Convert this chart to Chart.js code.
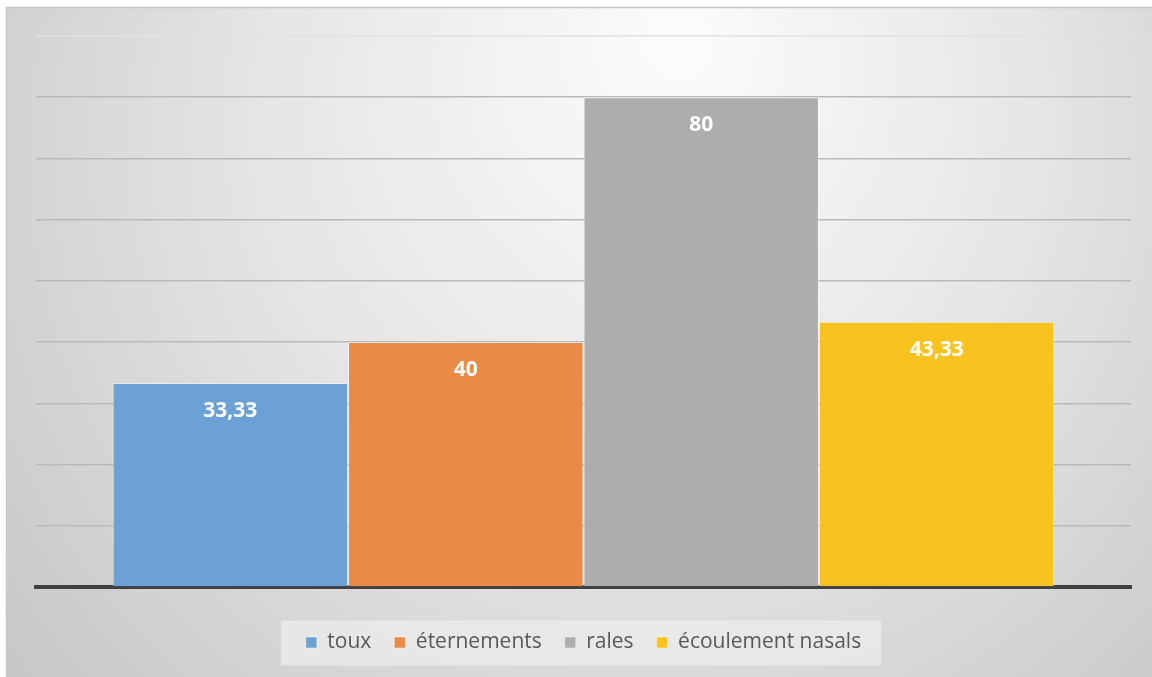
<!DOCTYPE html>
<html>
<head>
<meta charset="utf-8">
<script src="https://cdn.jsdelivr.net/npm/chart.js@4/dist/chart.umd.min.js"></script>
<style>
  html, body { margin: 0; padding: 0; background: #ffffff; }
  #wrap { width: 1152px; height: 677px; position: relative; }
</style>
</head>
<body>
<div id="wrap"><canvas id="chart" width="1152" height="677"></canvas></div>
<script>
// Symptom frequencies (%)
const categories = [''];
const seriesNames = ['toux', 'éternements', 'rales', 'écoulement nasals'];
const seriesValues = [33.33, 40, 80, 43.33];
const yTicks = [0, 10, 20, 30, 40, 50, 60, 70, 80, 90];

const palette = ['#6ba1d5', '#ea8a47', '#adadad', '#f9c31f'];

const fmt = v => String(v).replace('.', ',');

// Frame with soft radial shading, plus a light panel behind the legend
const backdrop = {
  id: 'backdrop',
  beforeDraw(chart) {
    const ctx = chart.ctx;
    const W = chart.width, H = chart.height;
    ctx.save();
    ctx.fillStyle = '#ffffff';
    ctx.fillRect(0, 0, W, H);
    const g = ctx.createRadialGradient(680, 40, 20, 620, 200, 820);
    g.addColorStop(0, '#fbfbfb');
    g.addColorStop(0.45, '#e6e6e6');
    g.addColorStop(1, '#c4c4c4');
    ctx.fillStyle = g;
    ctx.fillRect(6, 7, W - 6, H - 7);
    ctx.strokeStyle = '#c6c6c6';
    ctx.lineWidth = 1.5;
    ctx.beginPath();
    ctx.moveTo(6.5, H);
    ctx.lineTo(6.5, 7.5);
    ctx.lineTo(W, 7.5);
    ctx.stroke();

    const boxes = chart.legend && chart.legend.legendHitBoxes;
    if (boxes && boxes.length) {
      const last = boxes[boxes.length - 1];
      const l = boxes[0].left - 25;
      const r = last.left + last.width + 20;
      const cy = boxes[0].top + boxes[0].height / 2;
      ctx.fillStyle = 'rgba(236,236,236,0.75)';
      ctx.fillRect(l, cy - 22, r - l, 45);
    }
    ctx.restore();
  }
};

// Value labels inside the top of each bar
const valueLabels = {
  id: 'valueLabels',
  afterDatasetsDraw(chart) {
    const ctx = chart.ctx;
    ctx.save();
    ctx.font = 'bold 21px "Open Sans", sans-serif';
    ctx.fillStyle = '#ffffff';
    ctx.textAlign = 'center';
    ctx.textBaseline = 'middle';
    chart.data.datasets.forEach((ds, i) => {
      const meta = chart.getDatasetMeta(i);
      meta.data.forEach((bar, j) => {
        ctx.fillText(fmt(ds.data[j]), bar.x, bar.y + 28);
      });
    });
    ctx.restore();
  }
};

const datasets = seriesNames.map((name, i) => ({
  label: name,
  data: [seriesValues[i]],
  backgroundColor: palette[i],
  borderColor: 'rgba(255,255,255,0.45)',
  borderWidth: 1,
  borderSkipped: 'bottom'
}));

new Chart(document.getElementById('chart'), {
  type: 'bar',
  data: { labels: categories, datasets },
  options: {
    responsive: false,
    animation: false,
    events: [],
    categoryPercentage: 0.86,
    barPercentage: 1.0,
    layout: { padding: { left: 36, right: 21, top: 36, bottom: 14 } },
    scales: {
      x: {
        grid: { display: false },
        ticks: { display: false },
        border: { display: true, color: '#404040', width: 4 },
        afterFit: axis => { axis.height += 14; }
      },
      y: {
        min: 0,
        max: 90,
        afterBuildTicks: axis => { axis.ticks = yTicks.map(v => ({ value: v })); },
        ticks: { display: false },
        border: { display: false },
        grid: {
          drawTicks: false,
          lineWidth: 1.5,
          color: c => (c.tick && c.tick.value === 90) ? '#e2e2e2' : '#b9b9b9'
        }
      }
    },
    plugins: {
      tooltip: { enabled: false },
      legend: {
        position: 'bottom',
        labels: {
          boxWidth: 11,
          boxHeight: 11,
          padding: 23,
          color: '#595959',
          font: { family: '"Open Sans", sans-serif', size: 21 }
        }
      }
    }
  },
  plugins: [backdrop, valueLabels]
});
</script>
</body>
</html>
